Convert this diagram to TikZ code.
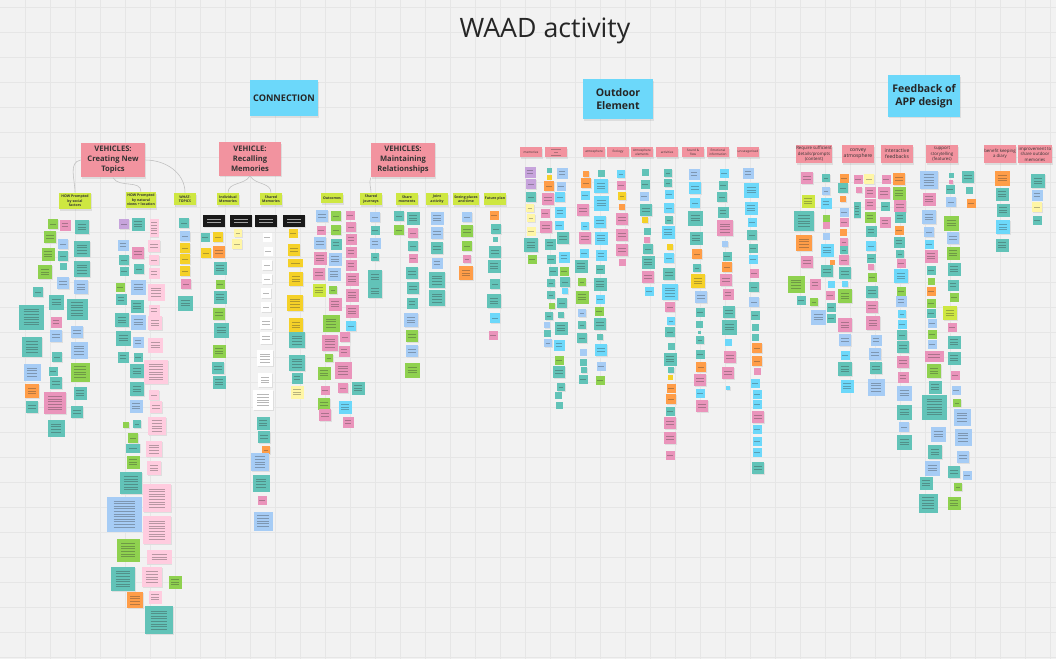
\documentclass[tikz,border=0pt]{standalone}
\usepackage{fontspec}
\setmainfont{Open Sans}
\usetikzlibrary{shadows}

\definecolor{bgc}{HTML}{F2F2F2}
\definecolor{gridc}{HTML}{E6E6E6}
\definecolor{cyh}{HTML}{6CD8FA}
\definecolor{rdh}{HTML}{F2939F}
\definecolor{li}{HTML}{CEE741}
\definecolor{tl}{HTML}{62C3B8}
\definecolor{bl}{HTML}{A6CCF5}
\definecolor{gr}{HTML}{8FD14F}
\definecolor{pk}{HTML}{EA94BB}
\definecolor{lp}{HTML}{FFCCDF}
\definecolor{ye}{HTML}{F5D128}
\definecolor{ly}{HTML}{FFF6A6}
\definecolor{orn}{HTML}{FF9D48}
\definecolor{pu}{HTML}{C7A4DC}
\definecolor{cy}{HTML}{6CD8FA}
\definecolor{wh}{HTML}{FFFFFF}

% one sticky note: x, y, width, height, colour
\newcommand\stk[5]{%
  \fill[black!13] ({#1-#3/2+0.5},{#2-#4/2+0.9}) rectangle ++(#3,#4);
  \fill[#5] ({#1-#3/2},{#2-#4/2}) rectangle ++(#3,#4);
  \pgfmathtruncatemacro\nlines{(#4-5)/2.6}%
  \ifnum\nlines>0
    \foreach \k in {1,...,\nlines}
      \draw[txtline] ({#1-#3*0.3},{#2-\nlines*1.3+(\k-0.5)*2.6}) -- ++({#3*0.6},0);
  \fi}
\newcommand\sq[4]{\stk{#1}{#2}{#3}{#3}{#4}}

\tikzset{
  txtline/.style={black!80, opacity=.35, line width=.45pt},
  shad/.style={drop shadow={opacity=.18, shadow xshift=.25mm, shadow yshift=-.45mm}},
  hdr/.style={fill=cyh, shad, minimum width=17.5mm, minimum height=9.5mm, align=center,
    font=\bfseries\fontsize{7.5}{9.5}\selectfont, text=black!85, inner sep=1pt},
  veh/.style={fill=rdh, shad, minimum width=16mm, minimum height=8.7mm, align=center,
    font=\bfseries\fontsize{5.4}{7}\selectfont, text=black!80, inner sep=1pt},
  sub/.style={fill=li, shad, minimum width=5.5mm, minimum height=3mm, align=center,
    font=\bfseries\fontsize{2.5}{3.1}\selectfont, text=black!80, inner sep=.6pt},
  cat/.style={fill=rdh, shad, minimum width=5.3mm, minimum height=2.6mm, align=center,
    font=\fontsize{2.2}{2.7}\selectfont, text=black!80, inner sep=.4pt},
  fbk/.style={fill=rdh, shad, minimum width=7.8mm, minimum height=4.5mm, align=center,
    font=\fontsize{3.1}{3.9}\selectfont, text=black!80, inner sep=.5pt},
  link/.style={black!25, line width=.4pt},
}

\begin{document}
\begin{tikzpicture}[x=0.025cm, y=-0.025cm]
\useasboundingbox (0,0) rectangle (1056,659);
\fill[bgc] (0,0) rectangle (1056,659);
\foreach \gx in {25,50,...,1050} \draw[gridc, line width=.4pt] (\gx,0) -- (\gx,659);
\foreach \gy in {7.7,32.7,...,659} \draw[gridc, line width=.4pt] (0,\gy) -- (1056,\gy);

\node[font=\fontsize{19}{22}\selectfont, text=black!85] (title) at (545,31) {WAAD activity};

% main headers
\node[hdr, minimum width=17mm, minimum height=9mm, font=\bfseries\fontsize{6.5}{8}\selectfont] (conn) at (284,98) {CONNECTION};
\node[hdr, minimum height=10mm] (outdoor) at (618,99) {Outdoor\\Element};
\node[hdr, minimum width=18mm, minimum height=10.3mm] (feedback) at (924,96) {Feedback of\\APP design};

\node[veh] (cnt) at (113,160) {VEHICLES:\\Creating New\\Topics};
\node[veh, minimum width=15.3mm, minimum height=8.3mm] (rm) at (250,159) {VEHICLE:\\Recalling\\Memories};
\node[veh] (mr) at (403,160) {VEHICLES:\\Maintaining\\Relationships};

% sub headers
\node[sub, minimum width=7.8mm, minimum height=4.2mm] (howsoc) at (75,201) {HOW Prompted\\by social\\factors};
\node[sub, minimum width=7.6mm, minimum height=4mm] (hownat) at (141,200) {HOW Prompted\\by natural\\views + location};
\node[sub] (what) at (185,199) {WHAT:\\TOPICS};
\node[sub] (indiv) at (228,199) {Individual\\Memories};
\node[sub] (shmem) at (271,199) {Shared\\Memories};
\node[sub, minimum height=2.6mm] (outc) at (332,198) {Outcomes};
\node[sub] (journ) at (371,199) {Shared\\journeys};
\node[sub] (moment) at (407,199) {Share\\moments};
\node[sub] (joint) at (437,199) {Joint\\activity};
\node[sub] (seeing) at (466,199) {Seeing places\\and time};
\node[sub] (future) at (495,199) {Future plan};

\draw[link] (cnt.west) to[out=190,in=90] (howsoc.north);
\draw[link] (cnt.south) to[out=-60,in=90] (hownat.north);
\draw[link] (cnt.east) to[out=0,in=90] (what.north);
\draw[link] (rm.south) to[out=-120,in=90] (indiv.north);
\draw[link] (rm.south) to[out=-60,in=90] (shmem.north);
\draw[link] (mr.south west) to[out=-110,in=90] (journ.north);

% outdoor categories
\node[cat] (c1) at (531,152) {memories};
\node[cat] (c2) at (556,152) {};
\draw[txtline] (551,149) -- (561,149) (554,152) -- (558,152) (551,155) -- (561,155);
\node[cat] (c3) at (594,152) {atmosphere};
\node[cat] (c4) at (618,152) {Ecology};
\node[cat] (c5) at (642,152) {Atmosphere\\elements};
\node[cat] (c6) at (667,152) {activities};
\node[cat] (c7) at (693,152) {Sound \&\\flow};
\node[cat] (c8) at (718,152) {Emotional\\information};
\node[cat] (c9) at (748,152) {uncategorised};

% feedback categories
\node[fbk] (f1) at (814,154) {Require sufficient\\details/prompts\\(content)};
\node[fbk, font=\fontsize{3.6}{4.4}\selectfont] (f2) at (858,154) {convey\\atmosphere};
\node[fbk, font=\fontsize{3.6}{4.4}\selectfont] (f3) at (897,154) {interactive\\feedbacks};
\node[fbk] (f4) at (942,154) {support\\storytelling\\(features)};
\node[fbk] (f5) at (1000,154) {benefit keeping\\a diary};
\node[fbk] (f6) at (1035,154) {improvement to\\share outdoor\\memories};

% black notes under memories
\foreach \bx in {214,241,266,294} {
  \fill[black!13] (\bx-10.5,215.9) rectangle ++(22,12);
  \fill[black!90] (\bx-11,215) rectangle ++(22,12);
  \draw[white, opacity=.6, line width=.5pt] (\bx-7,219) -- ++(14,0) (\bx-7,222) -- ++(14,0);
}

% creating new topics
\foreach \x/\y/\s/\c in {53/224/10/gr, 65/225/11/pk, 82/227/14/tl, 50/237/12/gr, 63/244/10/bl,
  82/249/16/tl, 48/254/13/gr, 63/256/10/tl, 82/269/16/tl, 45/272/14/gr, 63/266/7/tl, 63/283/12/bl,
  81/287/14/bl, 38/292/10/tl, 56/302/15/tl, 77/309/21/tl, 31/317/25/tl, 56/322/11/pk, 56/336/12/bl,
  77/332/12/bl, 32/347/20/tl, 79/350/17/bl, 57/357/10/tl, 32/372/17/bl, 53/371/9/tl, 80/372/19/gr,
  56/383/12/tl, 32/391/14/orn, 80/393/13/tl, 55/403/22/pk, 32/407/12/tl, 77/412/12/tl, 56/428/17/tl}
  {\sq{\x}{\y}{\s}{\c}}
\foreach \x/\y/\s/\c in {124/224/10/pu, 138/224/13/tl, 123/245/11/bl, 154/246/12/lp, 138/253/12/pk,
  124/260/10/tl, 154/260/10/lp, 124/271/9/tl, 139/269/10/tl, 154/273/11/lp, 120/287/9/gr,
  138/287/15/bl, 156/292/17/lp, 121/299/11/tl, 137/306/13/tl, 154/310/11/lp, 122/320/14/tl,
  138/322/15/bl, 155/323/14/lp, 123/338/15/tl, 138/342/11/bl, 155/345/15/lp, 123/357/11/tl,
  138/357/9/tl, 137/371/14/tl, 156/372/24/lp, 137/389/14/tl, 154/395/10/lp, 136/406/13/bl,
  156/407/12/lp, 126/425/6/gr, 137/424/8/tl, 133/438/10/gr, 157/426/18/lp, 154/449/16/lp,
  133/462/13/gr, 154/468/14/lp, 131/483/22/tl, 157/498/28/lp, 124/514/35/bl, 157/530/28/lp,
  128/550/23/gr, 123/579/24/tl, 152/577/20/lp, 175/582/13/gr, 135/600/16/orn, 155/597/13/lp,
  159/620/28/tl}
  {\sq{\x}{\y}{\s}{\c}}
\stk{154}{228}{9}{18}{lp}
\stk{133}{448}{14}{9}{tl}
\stk{159}{557}{25}{14}{lp}
\foreach \x/\y/\s/\c in {184/223/10/tl, 185/236/10/bl, 185/248/10/ye, 185/259/10/ye,
  185/271/10/ye, 186/284/10/pk, 185/303/15/tl}
  {\sq{\x}{\y}{\s}{\c}}

% recalling memories
\foreach \x/\y/\s/\c in {205/237/9/tl, 218/237/10/ye, 238/233/8/ly, 237/244/10/ly, 206/253/10/ye,
  219/252/12/orn, 220/268/13/tl, 220/284/9/gr, 220/297/13/tl, 219/314/12/gr, 221/330/15/tl,
  219/351/13/gr, 218/368/12/tl, 219/382/13/tl}
  {\sq{\x}{\y}{\s}{\c}}
\foreach \x/\y/\s/\c in {267/237/9/wh, 268/251/9/wh, 267/265/10/wh, 267/279/10/wh, 266/293/10/wh,
  266/307/10/wh, 266/323/12/wh, 266/338/12/wh, 265/358/16/wh, 265/380/14/wh, 263/400/20/wh,
  263/423/13/tl, 264/437/12/tl, 266/450/8/orn, 260/462/18/bl, 261/483/17/tl, 262/500/9/pk,
  263/521/19/bl}
  {\sq{\x}{\y}{\s}{\c}}
\foreach \x/\y/\s/\c in {293/233/9/ye, 294/250/12/ye, 296/279/14/ye, 295/303/16/ye, 296/325/14/ye,
  297/340/16/tl, 297/363/16/tl, 297/378/11/tl, 297/392/13/ly}
  {\sq{\x}{\y}{\s}{\c}}
\stk{295}{263}{15}{8}{ye}

% maintaining relationships
\foreach \x/\y/\s/\c in {322/216/12/bl, 336/216/10/gr, 350/215/9/pk, 321/230/9/pk, 336/230/10/gr,
  351/227/10/pk, 320/243/12/bl, 336/244/11/tl, 351/239/11/pk, 320/258/13/pk, 335/259/13/bl,
  351/252/11/pk, 319/274/12/pk, 334/274/13/bl, 351/265/11/pk, 319/290/13/li, 333/290/8/gr,
  352/279/13/pk, 335/304/13/pk, 352/295/13/pk, 352/311/13/pk, 351/326/10/cy, 331/323/17/gr,
  330/343/16/pk, 345/337/10/pk, 344/351/11/pk, 329/358/8/gr, 324/373/13/gr, 343/370/17/pk,
  325/390/9/pk, 343/388/10/pk, 358/388/13/tl, 324/404/12/gr, 345/407/13/cy, 325/415/12/pk,
  348/422/11/pk}
  {\sq{\x}{\y}{\s}{\c}}
\foreach \x/\y/\s/\c in {375/217/10/bl, 375/230/9/tl, 375/243/11/bl, 375/257/8/tl, 375/277/14/tl,
  375/291/14/tl,
  399/216/10/tl, 399/230/10/gr, 413/218/13/tl, 413/233/10/pk, 413/246/10/tl, 413/258/9/pk,
  412/273/12/tl, 413/288/12/tl, 412/303/11/tl, 411/320/14/bl, 412/336/12/gr, 412/351/12/bl,
  412/370/15/gr,
  437/218/13/bl, 437/233/12/bl, 437/248/12/tl, 437/263/11/bl, 437/280/16/tl, 437/298/16/tl,
  467/217/10/bl, 467/231/12/gr, 467/246/10/gr, 467/259/8/pk, 466/273/14/orn,
  494/215/9/orn, 496/229/10/tl, 495/239/5/tl, 495/252/12/tl, 494/266/13/tl, 495/284/10/tl,
  494/301/14/tl, 495/318/10/cy, 493/335/9/pk}
  {\sq{\x}{\y}{\s}{\c}}

% outdoor element
\foreach \x/\y/\s/\c in {530/172/11/pu, 531/184/10/pu, 531/197/10/tl, 530/208/8/ly, 531/218/8/ly,
  531/231/9/ly, 531/245/14/tl, 532/259/9/gr,
  549/170/5/tl, 549/177/5/ye, 549/186/10/orn, 548/199/12/pk, 545/213/9/pk, 546/227/12/pk,
  550/244/11/tl, 551/259/9/tl, 553/271/9/tl, 551/283/8/tl, 551/295/8/tl, 552/306/6/gr,
  549/316/8/tl, 547/325/6/bl, 547/333/7/tl, 548/343/8/bl,
  562/173/11/bl, 561/186/9/bl, 560/197/10/cy, 560/212/11/cy, 559/225/9/cy, 563/238/12/tl,
  564/257/11/cy, 564/271/9/gr, 565/282/10/tl, 565/291/6/cy, 562/303/10/tl, 561/315/6/tl,
  561/328/13/tl, 559/345/11/cy, 559/360/9/gr, 559/372/12/tl, 561/387/8/tl, 558/395/7/tl,
  559/405/7/tl}
  {\sq{\x}{\y}{\s}{\c}}
\foreach \x/\y/\s/\c in {586/174/6/orn, 586/183/10/orn, 585/195/9/cy, 583/210/12/pk, 585/226/8/cy,
  585/238/12/pk, 584/253/9/cy, 581/266/13/tl, 582/282/8/gr, 582/297/13/gr, 582/313/8/bl,
  582/325/8/tl, 582/338/10/tl, 583/352/7/bl, 583/362/7/tl, 584/370/6/tl, 583/379/9/tl,
  601/173/7/tl, 601/186/14/cy, 601/203/15/cy, 600/222/12/cy, 601/238/13/cy, 601/255/11/cy,
  600/269/9/tl, 600/284/13/tl, 600/299/9/cy, 599/311/9/gr, 600/324/12/tl, 600/337/6/tl,
  601/350/12/cy, 601/366/9/bl, 600/380/9/gr,
  621/174/8/cy, 621/185/9/pk, 622/196/8/ye, 622/207/6/orn, 622/219/12/pk, 622/235/12/pk,
  622/250/12/pk, 622/262/7/pk}
  {\sq{\x}{\y}{\s}{\c}}
\foreach \x/\y/\s/\c in {645/172/7/tl, 645/184/9/tl, 644/196/9/bl, 646/210/12/tl, 645/220/6/ye,
  647/231/7/tl, 647/240/6/pk, 648/249/10/tl, 648/262/13/tl, 648/277/12/pk, 649/291/9/cy,
  668/173/8/tl, 668/183/8/tl, 669/194/9/cy, 669/208/10/cy, 669/220/8/tl, 668/232/13/cy,
  670/247/6/ye, 669/258/10/cy, 669/274/12/tl, 670/292/16/cy, 670/307/10/pk, 671/321/8/cy,
  670/332/10/tl, 671/346/7/tl, 670/359/13/tl, 671/370/6/tl, 670/377/5/ye, 671/388/9/orn,
  671/399/10/orn, 670/411/9/tl, 670/423/12/pk, 670/438/12/pk, 670/455/9/pk}
  {\sq{\x}{\y}{\s}{\c}}
\foreach \x/\y/\s/\c in {694/174/11/bl, 695/188/12/cy, 695/203/10/cy, 695/218/15/tl, 696/238/13/tl,
  697/254/10/orn, 697/268/8/tl, 698/281/14/ye, 701/297/12/bl, 700/312/9/tl, 699/324/7/tl,
  699/332/3/tl, 700/340/8/tl, 700/354/9/tl, 701/367/10/orn, 700/380/12/pk, 700/393/9/cy,
  702/406/12/pk,
  724/173/9/cy, 723/185/9/tl, 722/197/10/tl, 723/212/11/tl, 725/228/16/pk, 725/244/6/bl,
  727/256/9/tl, 727/267/10/orn, 726/280/12/pk, 728/294/11/pk, 729/312/12/tl, 729/327/15/tl,
  728/342/7/cy, 730/357/12/pk, 728/373/12/pk, 728/388/4/cy}
  {\sq{\x}{\y}{\s}{\c}}
\foreach \x/\y/\s/\c in {748/173/11/bl, 751/190/15/cy, 751/208/13/cy, 752/222/9/cy, 752/235/10/tl,
  753/248/9/tl, 753/259/9/cy, 754/273/9/pk, 754/287/10/tl, 754/302/10/bl, 755/315/9/tl,
  755/327/7/tl, 755/337/7/tl, 757/348/10/orn, 757/361/10/orn, 757/371/7/pk, 755/383/9/cy,
  757/394/9/cy, 757/404/9/cy, 758/417/12/pk, 757/429/9/cy, 757/441/9/cy, 757/452/9/cy,
  758/468/12/tl}
  {\sq{\x}{\y}{\s}{\c}}

% feedback of app design
\foreach \x/\y/\s/\c in {807/178/12/pk, 808/201/13/li, 804/221/20/tl, 804/243/16/orn, 807/262/12/pk,
  796/284/17/gr, 815/284/11/pk, 801/300/9/tl, 814/302/8/gr, 818/317/15/bl,
  826/178/8/tl, 826/191/8/bl, 826/203/11/cy, 826/218/7/gr, 826/225/7/pk, 826/236/7/bl,
  827/250/13/cy, 832/262/5/orn, 827/271/12/tl, 831/284/7/cy, 830/295/9/pk, 831/307/9/tl,
  831/318/9/tl}
  {\sq{\x}{\y}{\s}{\c}}
\foreach \x/\y/\s/\c in {844/178/9/orn, 843/188/10/tl, 843/199/6/orn, 844/212/9/bl, 844/222/9/pk,
  843/232/7/orn, 844/242/8/pk, 844/250/8/tl, 844/260/10/pk, 845/273/12/tl, 845/284/6/cy,
  845/296/14/gr, 845/325/14/pk, 845/340/12/bl, 845/355/9/cy, 845/369/14/tl, 847/386/13/cy,
  858/179/9/pk, 859/190/6/pk,
  869/179/10/ly, 870/192/11/pk, 870/204/11/pk, 870/217/11/gr, 871/231/11/tl, 871/246/10/cy,
  871/258/9/tl, 871/267/6/pk, 872/277/9/gr, 872/292/12/tl, 872/307/12/pk, 873/323/14/pk,
  876/340/11/bl, 875/354/12/bl, 876/368/12/tl, 876/387/17/bl,
  886/179/9/pk, 884/193/12/pk, 885/206/9/tl, 885/222/11/pk}
  {\sq{\x}{\y}{\s}{\c}}
\stk{857}{210}{7}{16}{tl}
\foreach \x/\y/\s/\c in {899/179/12/orn, 899/193/13/gr, 900/206/12/pk, 900/217/11/tl, 899/230/9/orn,
  899/242/11/tl, 900/254/8/tl, 901/263/9/pk, 901/276/14/cy, 901/291/9/gr, 901/301/11/bl,
  902/314/8/cy, 902/324/9/cy, 902/335/10/tl, 903/347/12/tl, 903/362/12/pk, 903/377/11/pk,
  904/393/15/bl, 904/412/15/tl, 904/427/10/bl, 904/442/15/tl}
  {\sq{\x}{\y}{\s}{\c}}
\foreach \x/\y/\s/\c in {929/180/18/bl, 929/199/13/pk, 929/217/14/bl, 929/232/10/bl, 929/244/9/cy,
  931/256/13/pk, 931/270/9/tl, 931/281/7/gr, 931/291/9/orn, 931/303/9/gr, 931/313/9/tl,
  932/323/9/bl, 932/334/9/gr, 932/344/9/bl, 934/371/14/gr, 935/387/13/tl, 934/407/25/tl,
  938/434/15/bl, 935/452/14/tl, 932/468/15/bl, 926/483/13/tl, 928/503/19/tl}
  {\sq{\x}{\y}{\s}{\c}}
\stk{934}{356}{19}{11}{pk}
\foreach \x/\y/\s/\c in {951/175/5/tl, 951/182/4/pk, 950/189/9/tl, 951/202/10/bl, 951/223/15/gr,
  953/238/12/bl, 953/253/13/gr, 954/269/13/tl, 953/285/11/tl, 954/297/9/gr, 950/313/14/li,
  952/327/9/pk, 954/342/13/tl, 954/358/13/tl, 955/375/9/pk, 956/390/9/bl, 957/403/8/gr,
  962/417/17/bl, 963/437/17/bl, 963/457/12/bl, 954/472/12/tl, 967/475/9/bl, 958/487/8/gr,
  954/503/13/gr,
  968/177/12/tl, 969/190/7/tl, 971/203/9/orn,
  1002/178/15/orn, 1002/194/13/tl, 1003/210/13/tl, 1003/227/14/cy, 1002/245/13/tl,
  1038/181/14/tl, 1037/195/11/bl, 1037/207/10/ly, 1037/220/9/tl}
  {\sq{\x}{\y}{\s}{\c}}
\end{tikzpicture}
\end{document}
